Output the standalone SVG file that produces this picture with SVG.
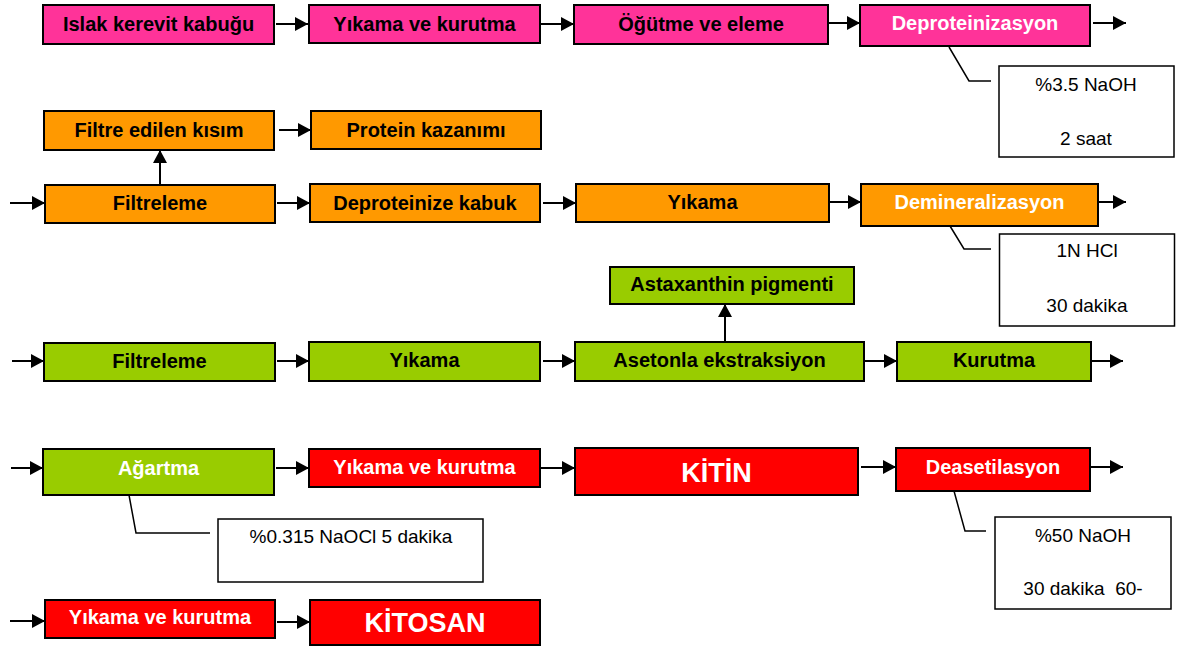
<svg xmlns="http://www.w3.org/2000/svg" width="1191" height="650" viewBox="0 0 1191 650">
<style>
.b{stroke:#000;stroke-width:2}
.pk{fill:#FF3399}.or{fill:#FF9900}.gr{fill:#99CC00}.rd{fill:#FF0000}
.t{font-family:"Liberation Sans",Arial,sans-serif;font-weight:bold;font-size:20px;text-anchor:middle;fill:#000}
.w{fill:#fff}
.big{font-size:27px}
.c{fill:#fff;stroke:#000;stroke-width:1.5}
.ct{font-family:"Liberation Sans",Arial,sans-serif;font-size:19px;text-anchor:middle;fill:#000}
.a{stroke:#000;stroke-width:2;fill:none;marker-end:url(#ah)}
.l{stroke:#000;stroke-width:1.5;fill:none}
</style>
<defs>
<marker id="ah" markerUnits="userSpaceOnUse" markerWidth="13" markerHeight="14" refX="13" refY="7" orient="auto">
<path d="M0,0 L13,7 L0,14 Z" fill="#000"/>
</marker>
</defs>
<rect width="1191" height="650" fill="#fff"/>
<g id="connectors">
<line class="a" x1="276" y1="24" x2="308" y2="24"/>
<line class="a" x1="541" y1="24" x2="574" y2="24"/>
<line class="a" x1="828" y1="23" x2="860" y2="23"/>
<line class="a" x1="1093" y1="23" x2="1126" y2="23"/>
<line class="a" x1="279" y1="130" x2="311" y2="130"/>
<line class="a" x1="160" y1="185" x2="160" y2="150"/>
<line class="a" x1="10" y1="203" x2="45" y2="203"/>
<line class="a" x1="277" y1="203" x2="310" y2="203"/>
<line class="a" x1="543" y1="203" x2="576" y2="203"/>
<line class="a" x1="829" y1="202" x2="861" y2="202"/>
<line class="a" x1="1099" y1="202" x2="1126" y2="202"/>
<line class="a" x1="725" y1="342" x2="725" y2="304"/>
<line class="a" x1="12" y1="361" x2="44" y2="361"/>
<line class="a" x1="277" y1="361" x2="309" y2="361"/>
<line class="a" x1="543" y1="361" x2="575" y2="361"/>
<line class="a" x1="865" y1="361" x2="897" y2="361"/>
<line class="a" x1="1092" y1="361" x2="1123" y2="361"/>
<line class="a" x1="11" y1="468" x2="43" y2="468"/>
<line class="a" x1="276" y1="468" x2="309" y2="468"/>
<line class="a" x1="541" y1="468" x2="575" y2="468"/>
<line class="a" x1="861" y1="467" x2="896" y2="467"/>
<line class="a" x1="1091" y1="467" x2="1123" y2="467"/>
<line class="a" x1="10" y1="621" x2="45" y2="621"/>
<line class="a" x1="277" y1="622" x2="310" y2="622"/>
<polyline class="l" points="949,47 969,81 991,81"/>
<polyline class="l" points="950,226 964,249 991,249"/>
<polyline class="l" points="129,495 136,533 210,533"/>
<polyline class="l" points="954,491 965,531 986,531"/>
</g>
<g id="n1"><rect class="b pk" x="43" y="5" width="231" height="39"/><text class="t" x="158.5" y="31">Islak kerevit kabuğu</text></g>
<g id="n2"><rect class="b pk" x="309" y="5" width="231" height="38"/><text class="t" x="424.5" y="31">Yıkama ve kurutma</text></g>
<g id="n3"><rect class="b pk" x="574" y="5" width="254" height="39"/><text class="t" x="701" y="31">Öğütme ve eleme</text></g>
<g id="n4"><rect class="b pk" x="860" y="5" width="230" height="41"/><text class="t w" x="975" y="30">Deproteinizasyon</text></g>
<g id="c1"><rect class="c" x="999" y="66" width="175" height="91"/><text class="ct" x="1086" y="91">%3.5 NaOH</text><text class="ct" x="1086" y="145">2 saat</text></g>
<g id="n5"><rect class="b or" x="44" y="111" width="230" height="39"/><text class="t" x="159" y="137">Filtre edilen kısım</text></g>
<g id="n6"><rect class="b or" x="311" y="111" width="230" height="38"/><text class="t" x="426" y="137">Protein kazanımı</text></g>
<g id="n7"><rect class="b or" x="45" y="185" width="230" height="38"/><text class="t" x="160" y="210">Filtreleme</text></g>
<g id="n8"><rect class="b or" x="310" y="184" width="230" height="38"/><text class="t" x="425" y="210">Deproteinize kabuk</text></g>
<g id="n9"><rect class="b or" x="576" y="184" width="253" height="38"/><text class="t" x="702.5" y="209">Yıkama</text></g>
<g id="n10"><rect class="b or" x="861" y="184" width="237" height="42"/><text class="t w" x="979.5" y="209">Demineralizasyon</text></g>
<g id="c2"><rect class="c" x="999.5" y="234" width="175" height="92"/><text class="ct" x="1087" y="257">1N HCl</text><text class="ct" x="1087" y="312">30 dakika</text></g>
<g id="n11"><rect class="b gr" x="610" y="267" width="244" height="37"/><text class="t" x="732" y="291">Astaxanthin pigmenti</text></g>
<g id="n12"><rect class="b gr" x="44" y="343" width="231" height="38"/><text class="t" x="159.5" y="368">Filtreleme</text></g>
<g id="n13"><rect class="b gr" x="309" y="342" width="231" height="39"/><text class="t" x="424.5" y="367">Yıkama</text></g>
<g id="n14"><rect class="b gr" x="575" y="342" width="289" height="39"/><text class="t" x="719.5" y="367">Asetonla ekstraksiyon</text></g>
<g id="n15"><rect class="b gr" x="897" y="342" width="194" height="39"/><text class="t" x="994" y="367">Kurutma</text></g>
<g id="n16"><rect class="b gr" x="43" y="449" width="231" height="46"/><text class="t w" x="158.5" y="475">Ağartma</text></g>
<g id="c3"><rect class="c" x="218" y="519" width="265" height="63"/><text class="ct" x="351" y="543">%0.315 NaOCl 5 dakika</text></g>
<g id="n17"><rect class="b rd" x="309" y="449" width="231" height="38"/><text class="t w" x="424.5" y="474">Yıkama ve kurutma</text></g>
<g id="n18"><rect class="b rd" x="575" y="448" width="283" height="47"/><text class="t w big" x="716.5" y="482">KİTİN</text></g>
<g id="n19"><rect class="b rd" x="896" y="448" width="194" height="43"/><text class="t w" x="993" y="474">Deasetilasyon</text></g>
<g id="c4"><rect class="c" x="995" y="517" width="176" height="92"/><text class="ct" x="1083" y="542">%50 NaOH</text><text class="ct" x="1083" y="595" xml:space="preserve">30 dakika  60-</text></g>
<g id="n20"><rect class="b rd" x="45" y="600" width="230" height="38"/><text class="t w" x="160" y="624">Yıkama ve kurutma</text></g>
<g id="n21"><rect class="b rd" x="310" y="600" width="230" height="45"/><text class="t w big" x="425" y="632">KİTOSAN</text></g>
</svg>
